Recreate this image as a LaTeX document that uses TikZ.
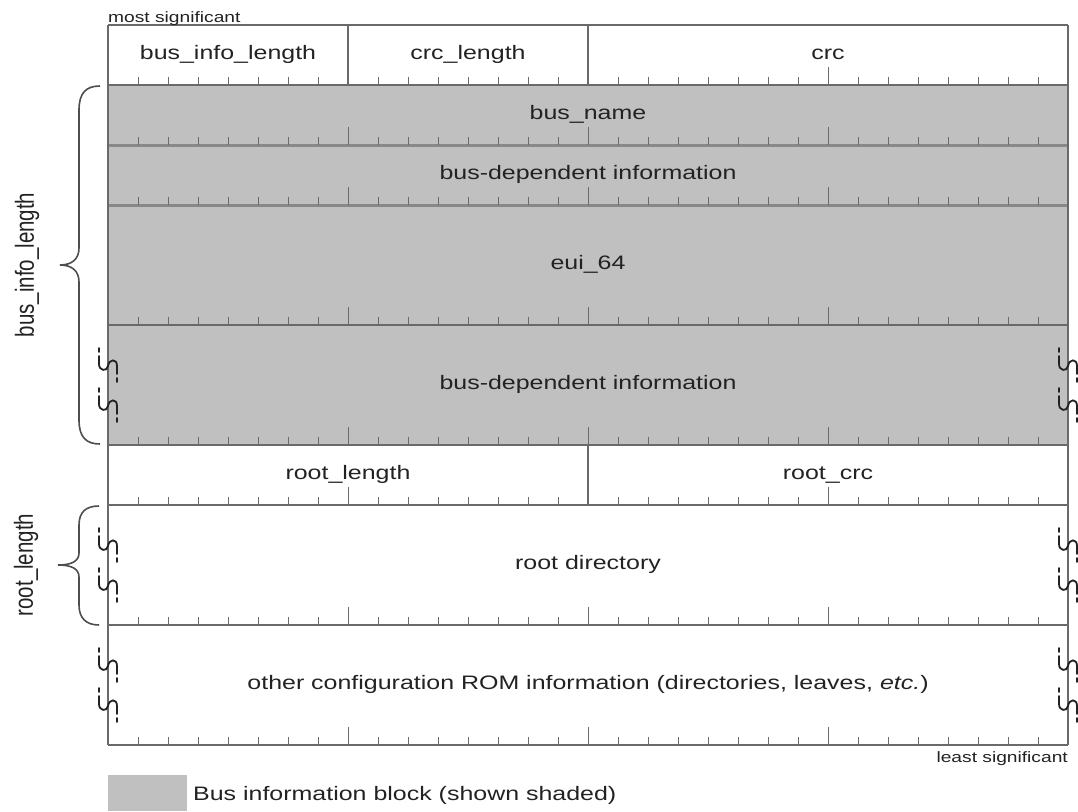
\documentclass[tikz,border=0pt]{standalone}
\usepackage{fontspec}
\setmainfont{Liberation Sans}[FakeStretch=1.28]
\newfontfamily\plainfont{Liberation Sans}
\definecolor{shadecol}{HTML}{C0C0C0}
\definecolor{lc}{HTML}{6A6A6A}
\definecolor{sc}{HTML}{888888}
\definecolor{tc}{HTML}{222222}
\tikzset{
  ln/.style={draw=lc, line width=1.4pt},
  sepline/.style={draw=sc, line width=3pt},
  tickmark/.style={draw=lc, line width=1pt},
  lbl/.style={font=\fontsize{19.5}{20}\selectfont, text=tc, anchor=base, inner sep=0pt},
  smalllbl/.style={font=\fontsize{15}{15}\selectfont, text=tc, anchor=base, inner sep=0pt},
  brkmark/.style={draw=tc, line width=1.8pt, line cap=round},
  bracepath/.style={draw=tc!80, line width=1.6pt}
}
\newcommand\breakmark[2]{%
  \draw[brkmark, shift={(#1,#2)}] (-9,-17) -- (-9,-13)
    (-9,-9) -- (-9,-1) .. controls (-9,6) and (-1,7) .. (0,1)
    .. controls (1,-6) and (9,-7) .. (9,1) -- (9,9)
    (9,13) -- (9,17);}
\begin{document}
\begin{tikzpicture}[x=1pt,y=-1pt]
\useasboundingbox (0,0) rectangle (1078,811);
% shaded block
\fill[shadecol] (108,85) rectangle (1068,445);
% row separators
\foreach \y in {85,325,445,505,625}{\draw[ln] (108,\y) -- (1068,\y);}
\foreach \y in {145,205}{\draw[sepline] (108,\y) -- (1068,\y);}
\draw[ln] (108,25) -- (1068,25);
\draw[ln] (108,745) -- (1068,745);
% ticks
\foreach \y in {85,145,205,325,445,505,625,745}{
  \foreach \i in {1,...,31}{
    \pgfmathsetmacro\tl{mod(\i,8)==0 ? 18 : 8}
    \draw[tickmark] (108+30*\i,\y) -- ++(0,-\tl);
  }
}
% field dividers
\draw[ln] (348,25) -- (348,85);
\draw[ln] (588,25) -- (588,85);
\draw[ln] (588,445) -- (588,505);
% outer sides
\draw[ln] (108,25) -- (108,745);
\draw[ln] (1068,25) -- (1068,745);
% labels
\node[smalllbl, anchor=base west] (msb) at (108,22) {most significant};
\node[smalllbl, anchor=base east] (lsb) at (1068,762) {least significant};
\node[lbl] (bil) at (228,59) {bus\_info\_length};
\node[lbl] (crcl) at (468,59) {crc\_length};
\node[lbl] (crc) at (828,59) {crc};
\node[lbl] (bn) at (588,119) {bus\_name};
\node[lbl] (bdi1) at (588,179) {bus-dependent information};
\node[lbl] (eui) at (588,269) {eui\_64};
\node[lbl] (bdi2) at (588,389) {bus-dependent information};
\node[lbl] (rl) at (348,479) {root\_length};
\node[lbl] (rcrc) at (828,479) {root\_crc};
\node[lbl] (rd) at (588,569) {root directory};
\node[lbl] (oth) at (588,689) {other configuration ROM information (directories, leaves, \textit{etc.})};
% break marks
\foreach \y in {365,405,545,585,665,705}{
  \breakmark{108}{\y}
  \breakmark{1068}{\y}
}
% braces
\draw[bracepath] (100,86) .. controls (86,86) and (79,93) .. (79,110) -- (79,248)
  .. controls (79,259) and (72,265) .. (60,265)
  .. controls (72,265) and (79,271) .. (79,282) -- (79,420)
  .. controls (79,437) and (86,444) .. (100,444);
\draw[bracepath] (99,506) .. controls (86,506) and (79,512) .. (79,525) -- (79,553)
  .. controls (79,561) and (72,565) .. (58,565)
  .. controls (72,565) and (79,569) .. (79,577) -- (79,605)
  .. controls (79,618) and (86,625) .. (99,625);
\node[rotate=90, text=tc, inner sep=0pt] (bilv) at (27,265) {\scalebox{1}[1.28]{\plainfont\fontsize{20.5}{21}\selectfont bus\_info\_length}};
\node[rotate=90, text=tc, inner sep=0pt] (rlv) at (26,565) {\scalebox{1}[1.28]{\plainfont\fontsize{20.5}{21}\selectfont root\_length}};
% legend
\fill[shadecol] (108,775) rectangle (187,811);
\node[lbl, anchor=base west] (leg) at (193,800) {Bus information block (shown shaded)};
\end{tikzpicture}
\end{document}
